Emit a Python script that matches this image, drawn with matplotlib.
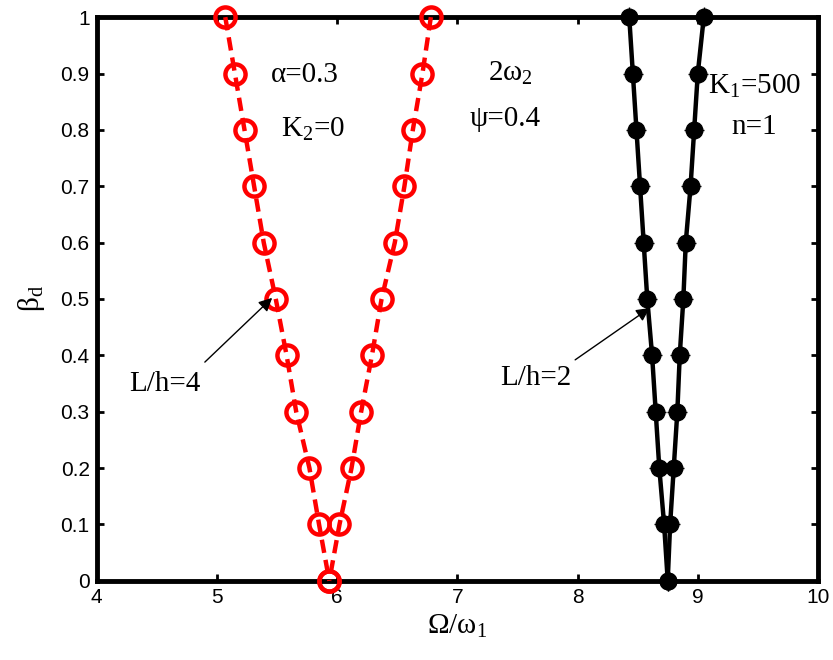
import matplotlib
matplotlib.use("Agg")
import matplotlib.pyplot as plt

plt.rcParams["mathtext.fontset"] = "custom"
plt.rcParams["mathtext.rm"] = "Liberation Serif"
plt.rcParams["mathtext.it"] = "Liberation Serif"
plt.rcParams["mathtext.bf"] = "Liberation Serif"

beta = [1.0, 0.9, 0.8, 0.7, 0.6, 0.5, 0.4, 0.3, 0.2, 0.1, 0.0]
lh4_left = [5.07, 5.15, 5.23, 5.31, 5.39, 5.49, 5.58, 5.66, 5.77, 5.85, 5.935]
lh4_right = [6.78, 6.71, 6.63, 6.56, 6.48, 6.37, 6.29, 6.20, 6.12, 6.02, 5.935]
lh2_left = [8.43, 8.46, 8.49, 8.52, 8.55, 8.58, 8.62, 8.65, 8.68, 8.72, 8.75]
lh2_right = [9.05, 9.00, 8.97, 8.94, 8.90, 8.88, 8.85, 8.83, 8.80, 8.77, 8.75]

xticks = [4, 5, 6, 7, 8, 9, 10]
yticks = [0, 0.1, 0.2, 0.3, 0.4, 0.5, 0.6, 0.7, 0.8, 0.9, 1]
yticklabels = ["0", "0.1", "0.2", "0.3", "0.4", "0.5", "0.6", "0.7", "0.8", "0.9", "1"]

serif = ["Liberation Serif", "DejaVu Serif"]
sans = ["Liberation Sans", "DejaVu Sans"]

fig = plt.figure(figsize=(8.33, 6.6), dpi=100)
ax = fig.add_axes([0.116, 0.12, 0.866, 0.854])

red_kw = dict(color="#ff0000", linestyle=(0, (3, 1.6)), linewidth=3.2, marker="o",
              markersize=14.5, markerfacecolor="none", markeredgewidth=3.2,
              markeredgecolor="#ff0000", clip_on=False, zorder=3)
ax.plot(lh4_left, beta, **red_kw)
ax.plot(lh4_right, beta, **red_kw)

blk_kw = dict(color="black", linestyle="-", linewidth=3.2, marker="o", markersize=12,
              markerfacecolor="black", markeredgecolor="black", clip_on=False, zorder=3)
ax.plot(lh2_left, beta, **blk_kw)
ax.plot(lh2_right, beta, **blk_kw)
plus_kw = dict(linestyle="none", marker="+", markersize=15, markeredgewidth=1.0,
               color="black", clip_on=False, zorder=3)
ax.plot(lh2_left, beta, **plus_kw)
ax.plot(lh2_right, beta, **plus_kw)

ax.set_xlim(4, 10)
ax.set_ylim(0, 1)
ax.set_xticks(xticks)
ax.set_yticks(yticks)
ax.set_yticklabels(yticklabels)
for lab in ax.get_xticklabels() + ax.get_yticklabels():
    lab.set_fontfamily(sans)
    lab.set_fontsize(15)
ax.tick_params(direction="in", length=5, width=2, top=True, right=True, pad=5)
for s in ax.spines.values():
    s.set_linewidth(3.5)
    s.set_zorder(2)

ax.set_xlabel("Ω/ω$_1$", fontsize=21, labelpad=4, family=serif)
ax.set_ylabel("β$_d$", fontsize=21, labelpad=10, family=serif)

tkw = dict(fontsize=21, ha="center", va="center", family=serif)
ax.text(5.73, 0.897, "α=0.3", **tkw)
ax.text(5.80, 0.80, "K$_2$=0", **tkw)
ax.text(7.44, 0.90, "2ω$_2$", **tkw)
ax.text(7.40, 0.82, "ψ=0.4", **tkw)
ax.text(9.47, 0.877, "K$_1$=500", **tkw)
ax.text(9.47, 0.805, "n=1", **tkw)

ax.text(4.57, 0.35, "L/h=4", **tkw)
ax.text(7.65, 0.36, "L/h=2", **tkw)
arrow = dict(arrowstyle="-|>", color="black", lw=1.0, mutation_scale=20,
             shrinkA=0, shrinkB=0)
ax.annotate("", xy=(5.46, 0.502), xytext=(4.90, 0.388), arrowprops=arrow)
ax.annotate("", xy=(8.60, 0.484), xytext=(7.98, 0.392), arrowprops=arrow)

fig.savefig("out.png", dpi=100)
